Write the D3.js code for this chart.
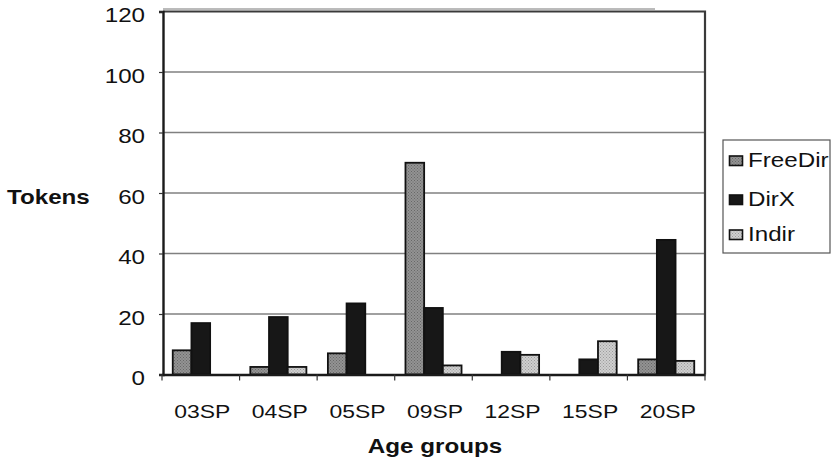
<!DOCTYPE html>
<html>
<head>
<meta charset="utf-8">
<script src="https://cdn.jsdelivr.net/npm/d3@7"></script>
<style>
  html, body { margin: 0; padding: 0; background: #fff; }
  svg { display: block; font-family: "Liberation Sans", Arial, sans-serif; }
</style>
</head>
<body>
<svg id="chart" width="832" height="462"></svg>
<script>
// Token counts per age group, three construction types
const categories = ["03SP", "04SP", "05SP", "09SP", "12SP", "15SP", "20SP"];
const seriesNames = ["FreeDir", "DirX", "Indir"];
const freeDir = [8, 2.5, 7, 70, 0, 0, 5];
const dirX = [17, 19, 23.5, 22, 7.5, 5, 44.5];
const indir = [0, 2.5, 0, 3, 6.5, 11, 4.5];
const yTicks = [0, 20, 40, 60, 80, 100, 120];

const seriesValues = [freeDir, dirX, indir];

const svg = d3.select("#chart");
const plotLeft = 163, plotRight = 705, plotTop = 11.5, plotBottom = 374.5;
const stretch = 1.24;           // wide lettering used throughout the chart
const fontFamily = "'Liberation Sans', Arial, sans-serif";

// Stipple patterns for the gray fills
const defs = svg.append("defs");
function stipple(id, base, dot) {
  const p = defs.append("pattern").attr("id", id).attr("width", 3).attr("height", 3)
    .attr("patternUnits", "userSpaceOnUse");
  p.append("rect").attr("width", 3).attr("height", 3).attr("fill", base);
  p.append("rect").attr("x", 0).attr("y", 0).attr("width", 1).attr("height", 1).attr("fill", dot);
  p.append("rect").attr("x", 1.5).attr("y", 1.5).attr("width", 1).attr("height", 1).attr("fill", dot);
}
stipple("pFree", "#939393", "#686868");
stipple("pIndir", "#cfcfcf", "#9c9c9c");
const fills = ["url(#pFree)", "#171717", "url(#pIndir)"];

const x0 = d3.scaleBand().domain(categories).range([plotLeft - 1, plotRight]).paddingInner(0).paddingOuter(0);
const x1 = d3.scaleBand().domain(seriesNames).range([0, x0.bandwidth()]).paddingInner(0).paddingOuter(0.575);
const y = d3.scaleLinear().domain([0, 120]).range([plotBottom, plotTop]);

// Gridlines
svg.append("g").selectAll("line").data(yTicks.filter(d => d > 0 && d < 120)).join("line")
  .attr("x1", plotLeft).attr("x2", plotRight)
  .attr("y1", d => y(d)).attr("y2", d => y(d))
  .attr("stroke", "#808080").attr("stroke-width", 1.3);

// Plot frame (top and right edges), with the thin rule just above it
svg.append("path")
  .attr("d", `M${plotLeft},${plotTop}H${plotRight}V${plotBottom}`)
  .attr("fill", "none").attr("stroke", "#3a3a3a").attr("stroke-width", 2.2);
svg.append("line").attr("x1", plotLeft).attr("x2", 655).attr("y1", plotTop - 2.5).attr("y2", plotTop - 2.5)
  .attr("stroke", "#777").attr("stroke-width", 1);

// Bars
const rows = [];
categories.forEach((c, i) => seriesNames.forEach((s, j) => {
  rows.push({ c, s, j, v: seriesValues[j][i] });
}));
svg.append("g").selectAll("rect").data(rows.filter(d => d.v > 0)).join("rect")
  .attr("x", d => x0(d.c) + x1(d.s))
  .attr("width", x1.bandwidth())
  .attr("y", d => y(d.v))
  .attr("height", d => y(0) - y(d.v))
  .attr("fill", d => fills[d.j])
  .attr("stroke", "#111").attr("stroke-width", 1.8);

// Y axis
const yAxis = svg.append("g").attr("transform", `translate(${plotLeft},0)`)
  .call(d3.axisLeft(y).tickValues(yTicks).tickSize(4).tickPadding(10.5).tickFormat(d3.format("d")));
yAxis.select(".domain").attr("stroke", "#1a1a1a").attr("stroke-width", 2.4);
yAxis.selectAll(".tick line").attr("stroke", "#333").attr("stroke-width", 1.2);
yAxis.selectAll("text").attr("font-size", 19.5).attr("fill", "#111").attr("font-family", fontFamily)
  .attr("y", 4).attr("transform", `scale(${stretch},1)`);

// X axis
const xAxis = svg.append("g").attr("transform", `translate(0,${plotBottom})`)
  .call(d3.axisBottom(x0).tickSize(0).tickPadding(30.5));
xAxis.select(".domain").attr("stroke", "#1a1a1a").attr("stroke-width", 2.4);
xAxis.selectAll("text").attr("font-size", 18.5).attr("fill", "#111").attr("font-family", fontFamily)
  .attr("transform", `translate(1.5,0) scale(${stretch},1)`);
// Category separator ticks
svg.append("g").selectAll("line").data(d3.range(categories.length + 1)).join("line")
  .attr("x1", i => x0.range()[0] + i * x0.bandwidth()).attr("x2", i => x0.range()[0] + i * x0.bandwidth())
  .attr("y1", plotBottom).attr("y2", plotBottom + 6)
  .attr("stroke", "#333").attr("stroke-width", 1.2);

// Axis titles
svg.append("text").attr("transform", `translate(7,204) scale(${stretch},1)`)
  .attr("font-size", 19.5).attr("font-weight", "bold").attr("fill", "#111").text("Tokens");
svg.append("text").attr("transform", `translate(435,453) scale(${stretch},1)`).attr("text-anchor", "middle")
  .attr("font-size", 19.5).attr("font-weight", "bold").attr("fill", "#111").text("Age groups");

// Legend
const lg = svg.append("g").attr("transform", "translate(723,140)");
lg.append("rect").attr("width", 107).attr("height", 113).attr("fill", "#fff")
  .attr("stroke", "#555").attr("stroke-width", 1.2);
const legendBase = [27, 66, 101];
seriesNames.forEach((s, j) => {
  const yy = legendBase[j];
  lg.append("rect").attr("x", 6.5).attr("y", yy - 11).attr("width", 13).attr("height", 9.5)
    .attr("fill", fills[j]).attr("stroke", "#111").attr("stroke-width", 1.6);
  lg.append("text").attr("transform", `translate(25,${yy}) scale(${stretch},1)`)
    .attr("font-size", 19.5).attr("fill", "#111").text(s);
});
</script>
</body>
</html>
